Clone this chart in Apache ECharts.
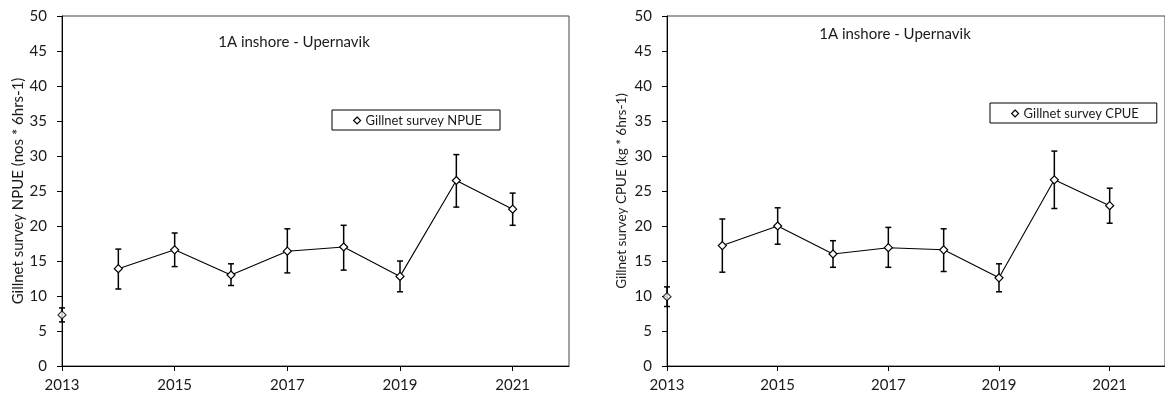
<!DOCTYPE html>
<html>
<head>
<meta charset="utf-8">
<script src="https://cdn.jsdelivr.net/npm/echarts@6/dist/echarts.min.js"></script>
<style>
  html, body { margin: 0; padding: 0; background: #fff; }
  #chart { width: 1165px; height: 400px; }
</style>
</head>
<body>
<div id="chart"></div>
<script>
// ---- data ----
const years = [2013, 2014, 2015, 2016, 2017, 2018, 2019, 2020, 2021];
const xTickYears = [2013, 2015, 2017, 2019, 2021];

const npue     = [7.3, 13.9, 16.6, 13.0, 16.4, 17.0, 12.8, 26.5, 22.4];
const npueLow  = [6.3, 11.0, 14.2, 11.5, 13.3, 13.7, 10.6, 22.7, 20.1];
const npueHigh = [8.3, 16.7, 19.0, 14.6, 19.6, 20.1, 15.0, 30.2, 24.7];

const cpue     = [9.9, 17.2, 20.0, 16.0, 16.9, 16.6, 12.6, 26.6, 22.9];
const cpueLow  = [8.5, 13.4, 17.4, 14.1, 14.1, 13.5, 10.6, 22.5, 20.4];
const cpueHigh = [11.3, 21.0, 22.6, 17.9, 19.8, 19.6, 14.6, 30.7, 25.4];

const titleText = '1A inshore - Upernavik';
const nameN = 'Gillnet survey NPUE';
const nameC = 'Gillnet survey CPUE';
const yNameN = 'Gillnet survey NPUE (nos * 6hrs-1)';
const yNameC = 'Gillnet survey CPUE (kg * 6hrs-1)';

// ---- chart ----
const FONT = 'Lato';
const TXT = '#1a1a1a';
const chart = echarts.init(document.getElementById('chart'));

function xAxis(gi) {
  return {
    type: 'value', gridIndex: gi, min: 2013, max: 2022, interval: 1,
    splitLine: { show: false },
    axisLine: { lineStyle: { color: '#000', width: 1 } },
    axisTick: { show: true, length: 5, inside: false, customValues: xTickYears, lineStyle: { color: '#000' } },
    axisLabel: { customValues: xTickYears, margin: 12, fontFamily: FONT, fontSize: 15, color: TXT, formatter: v => String(v) }
  };
}
function yAxis(gi, name, gap, nameSize) {
  return {
    type: 'value', gridIndex: gi, min: 0, max: 50, interval: 5,
    splitLine: { show: false },
    axisLine: { show: true, lineStyle: { color: '#000', width: 1 } },
    axisTick: { show: true, length: 5, lineStyle: { color: '#000' } },
    axisLabel: { margin: 15, fontFamily: FONT, fontSize: 15, color: TXT },
    name: name, nameLocation: 'middle', nameRotate: 90, nameGap: gap,
    nameTextStyle: { fontFamily: FONT, fontSize: nameSize, color: TXT }
  };
}
function errSeries(gi, low, high) {
  return {
    type: 'custom', xAxisIndex: gi, yAxisIndex: gi, z: 1, silent: true,
    data: years.map((y, i) => [y, low[i], high[i]]),
    renderItem: function (params, api) {
      const top = api.coord([api.value(0), api.value(2)]);
      const bot = api.coord([api.value(0), api.value(1)]);
      const w = 3;
      const st = { stroke: '#000', lineWidth: 1.5 };
      return {
        type: 'group',
        children: [
          { type: 'line', shape: { x1: top[0], y1: top[1], x2: bot[0], y2: bot[1] }, style: st },
          { type: 'line', shape: { x1: top[0] - w, y1: top[1], x2: top[0] + w, y2: top[1] }, style: st },
          { type: 'line', shape: { x1: bot[0] - w, y1: bot[1], x2: bot[0] + w, y2: bot[1] }, style: st }
        ]
      };
    }
  };
}
const markerStyle = { color: '#fff', borderColor: '#000', borderWidth: 1.2 };
function lineSeries(gi, name, vals) {
  return {
    type: 'line', name: name, xAxisIndex: gi, yAxisIndex: gi, z: 3,
    data: years.slice(1).map((y, i) => [y, vals[i + 1]]),
    symbol: 'diamond', symbolSize: 8, showAllSymbol: true,
    lineStyle: { color: '#000', width: 1.1 },
    itemStyle: markerStyle
  };
}
function firstPoint(gi, name, vals) {
  return {
    type: 'scatter', name: name, xAxisIndex: gi, yAxisIndex: gi, z: 3,
    data: [[years[0], vals[0]]],
    symbol: 'diamond', symbolSize: 8,
    itemStyle: markerStyle
  };
}
function legend(name, left, top) {
  return {
    data: [{ name: name, icon: 'diamond' }],
    left: left, top: top,
    orient: 'horizontal',
    itemWidth: 7, itemHeight: 7, itemGap: 4,
    padding: [4, 18, 3, 21],
    borderColor: '#000', borderWidth: 1,
    backgroundColor: '#fff',
    selectedMode: false,
    itemStyle: { color: '#fff', borderColor: '#000', borderWidth: 1.2 },
    textStyle: { fontFamily: FONT, fontSize: 13, color: TXT }
  };
}

const option = {
  animation: false,
  backgroundColor: '#fff',
  grid: [
    { left: 62, top: 16, width: 507, height: 350, show: true, borderColor: '#444', borderWidth: 1 },
    { left: 667, top: 16, width: 503, height: 350, show: true, borderColor: '#444', borderWidth: 1 }
  ],
  xAxis: [xAxis(0), xAxis(1)],
  yAxis: [yAxis(0, yNameN, 35, 15), yAxis(1, yNameC, 38, 13.5)],
  legend: [legend(nameN, 332, 110), legend(nameC, 990, 103)],
  graphic: [
    { type: 'text', x: 294, y: 42, style: { text: titleText, fontFamily: FONT, fontSize: 15, fill: TXT, align: 'center', verticalAlign: 'middle' } },
    { type: 'text', x: 895, y: 34, style: { text: titleText, fontFamily: FONT, fontSize: 15, fill: TXT, align: 'center', verticalAlign: 'middle' } }
  ],
  series: [
    errSeries(0, npueLow, npueHigh),
    lineSeries(0, nameN, npue),
    firstPoint(0, nameN, npue),
    errSeries(1, cpueLow, cpueHigh),
    lineSeries(1, nameC, cpue),
    firstPoint(1, nameC, cpue)
  ]
};
chart.setOption(option);
</script>
</body>
</html>
